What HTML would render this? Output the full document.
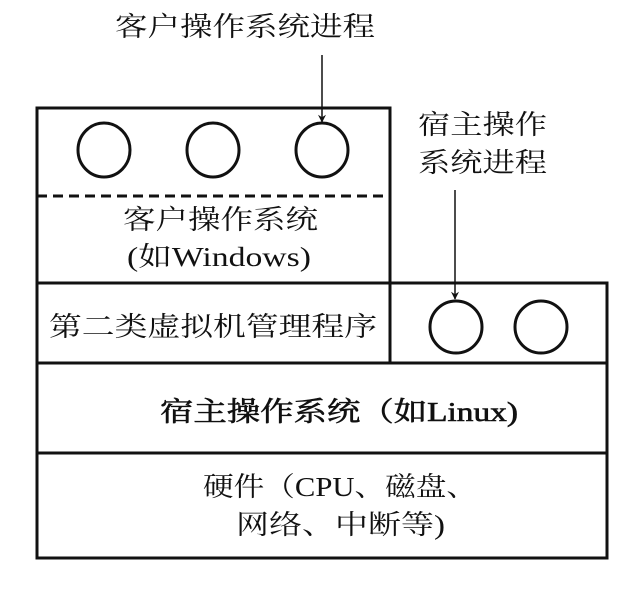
<!DOCTYPE html>
<html><head><meta charset="utf-8"><style>html,body{margin:0;padding:0;background:#fff}svg{display:block}</style></head>
<body>
<svg width="640" height="598" viewBox="0 0 640 598" xmlns="http://www.w3.org/2000/svg" font-family="'Liberation Serif','Noto Serif CJK SC',serif" fill="#111">
<defs><marker id="a" viewBox="0 0 10 10" refX="9" refY="5" markerWidth="14" markerHeight="8" orient="auto" markerUnits="userSpaceOnUse"><path d="M0,0 L10,5 L0,10 L3,5 Z" fill="#111"/></marker></defs>
<g stroke="#111" stroke-width="3" fill="none">
<rect x="37" y="108" width="353" height="175"/>
<line x1="37" y1="196" x2="390" y2="196" stroke-dasharray="10,6"/>
<rect x="37" y="283" width="570" height="80"/>
<line x1="390" y1="283" x2="390" y2="363"/>
<rect x="37" y="363" width="570" height="90"/>
<rect x="37" y="453" width="570" height="105"/>
<ellipse cx="104" cy="150" rx="26" ry="27"/>
<ellipse cx="213" cy="150" rx="26" ry="27"/>
<ellipse cx="322" cy="150" rx="26" ry="27"/>
<ellipse cx="456" cy="327" rx="26" ry="26"/>
<ellipse cx="541" cy="327" rx="26" ry="26"/>
</g>
<g stroke="#111" stroke-width="1.5">
<line x1="322" y1="55" x2="322" y2="122" marker-end="url(#a)"/>
<line x1="455" y1="190" x2="455" y2="299" marker-end="url(#a)"/>
</g>
<g font-size="27" dominant-baseline="central">
<text x="115" y="27" textLength="260" lengthAdjust="spacingAndGlyphs">客户操作系统进程</text>
<text x="418" y="125" textLength="129" lengthAdjust="spacingAndGlyphs">宿主操作</text>
<text x="418" y="163" textLength="129" lengthAdjust="spacingAndGlyphs">系统进程</text>
<text x="123" y="220" textLength="195" lengthAdjust="spacingAndGlyphs">客户操作系统</text>
<text x="127" y="257" textLength="184" lengthAdjust="spacingAndGlyphs">(如Windows)</text>
<text x="49" y="327" textLength="328" lengthAdjust="spacingAndGlyphs">第二类虚拟机管理程序</text>
<text x="160" y="412" textLength="358" lengthAdjust="spacingAndGlyphs" stroke="#111" stroke-width="0.6">宿主操作系统（如Linux)</text>
<text x="203" y="487" textLength="274" lengthAdjust="spacingAndGlyphs">硬件（CPU、磁盘、</text>
<text x="236" y="525" textLength="209" lengthAdjust="spacingAndGlyphs">网络、中断等)</text>
</g>
</svg>
</body></html>
